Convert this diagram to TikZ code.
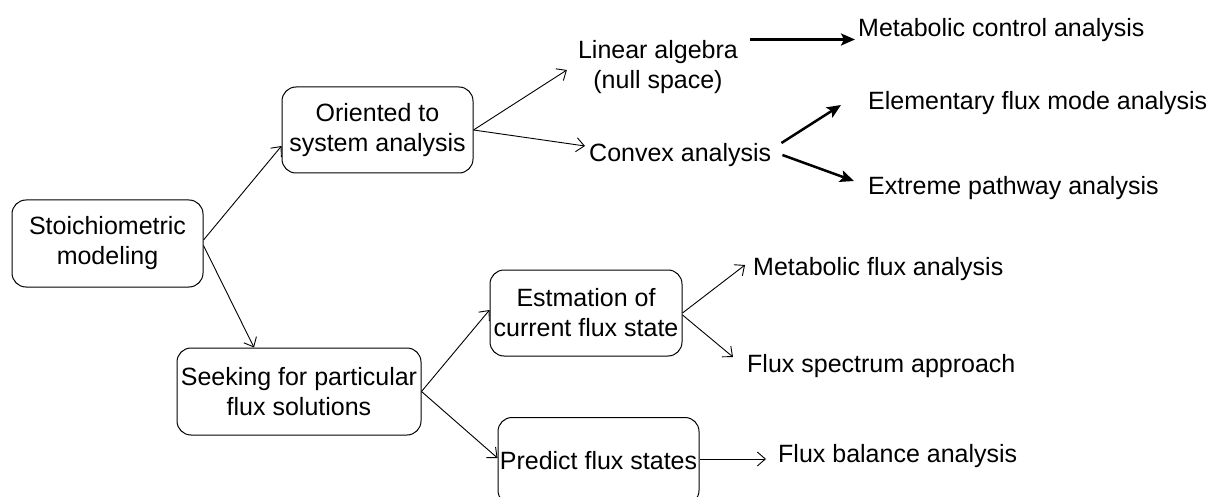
\documentclass[tikz,border=0pt]{standalone}
\usepackage{fontspec}
\setmainfont{Liberation Sans}
\usetikzlibrary{arrows.meta}
\begin{document}
\begin{tikzpicture}[x=1pt,y=-1pt,
  box/.style={draw, rounded corners=14pt, line width=1pt, align=center, inner sep=0pt, font=\fontsize{25}{30}\selectfont},
  lbl/.style={inner sep=0pt, align=center, font=\fontsize{25}{30}\selectfont},
  thinarr/.style={line width=0.9pt, -{Straight Barb[length=8pt,width=14pt]}},
  thickarr/.style={line width=2.5pt, -{Stealth[length=14pt,width=12pt,inset=3pt]}}]
\useasboundingbox (0,0) rectangle (1218,497);
\clip (0,0) rectangle (1218,497);
% boxes
\node[box, minimum width=191pt, minimum height=87pt] (stoich) at (107.5,243.5) {Stoichiometric\\modeling};
\node[box, minimum width=191pt, minimum height=86pt] (orient) at (377.5,130) {Oriented to\\system analysis};
\node[box, minimum width=244pt, minimum height=87pt] (seek) at (299,391.5) {Seeking for particular\\flux solutions};
\node[box, minimum width=192pt, minimum height=86pt] (estm) at (586,313) {Estmation of\\current flux state};
\node[box, minimum width=201pt, minimum height=87pt] (predict) at (598.5,461) {Predict flux states};
% labels
\node[lbl] (lin) at (658,67.5) {Linear algebra\\(null space)};
\node[lbl, anchor=base west] (mca) at (858,37) {Metabolic control analysis};
\node[lbl, anchor=base west] (convex) at (589,162) {Convex analysis};
\node[lbl, anchor=base west] (elem) at (868,110) {Elementary flux mode analysis};
\node[lbl, anchor=base west] (extr) at (868,195) {Extreme pathway analysis};
\node[lbl, anchor=base west] (mfa) at (753,275) {Metabolic flux analysis};
\node[lbl, anchor=base west] (fsa) at (747,372) {Flux spectrum approach};
\node[lbl, anchor=base west] (fba) at (778,462) {Flux balance analysis};
% connectors
\draw[thinarr] ([yshift=3.5pt]stoich.east) -- ([yshift=-16pt]orient.west);
\draw[thinarr] ([yshift=-2pt]stoich.east) -- ([xshift=-45pt]seek.north);
\draw[thinarr] (orient.east) -- ([xshift=-11pt,yshift=-2.5pt]lin.west);
\draw[thinarr] (orient.east) -- ([xshift=-4pt,yshift=16pt]convex.base west);
\draw[thickarr] ([xshift=12pt,yshift=28pt]lin.east) -- ([xshift=-3pt,yshift=-2.5pt]mca.base west);
\draw[thickarr] ([xshift=10pt,yshift=19pt]convex.base east) -- ([xshift=-27pt,yshift=5pt]elem.base west);
\draw[thickarr] ([xshift=11pt,yshift=7pt]convex.base east) -- ([xshift=-14pt,yshift=14pt]extr.base west);
\draw[thinarr] (seek.east) -- ([yshift=3pt]estm.west);
\draw[thinarr] (seek.east) -- ([yshift=3pt]predict.west);
\draw[thinarr] (estm.east) -- ([xshift=-8pt,yshift=10pt]mfa.base west);
\draw[thinarr] ([yshift=-2pt]estm.east) -- ([xshift=-14pt,yshift=15pt]fsa.base west);
\draw[thinarr] ([yshift=2pt]predict.east) -- ([xshift=-12pt,yshift=3pt]fba.base west);
\end{tikzpicture}
\end{document}
